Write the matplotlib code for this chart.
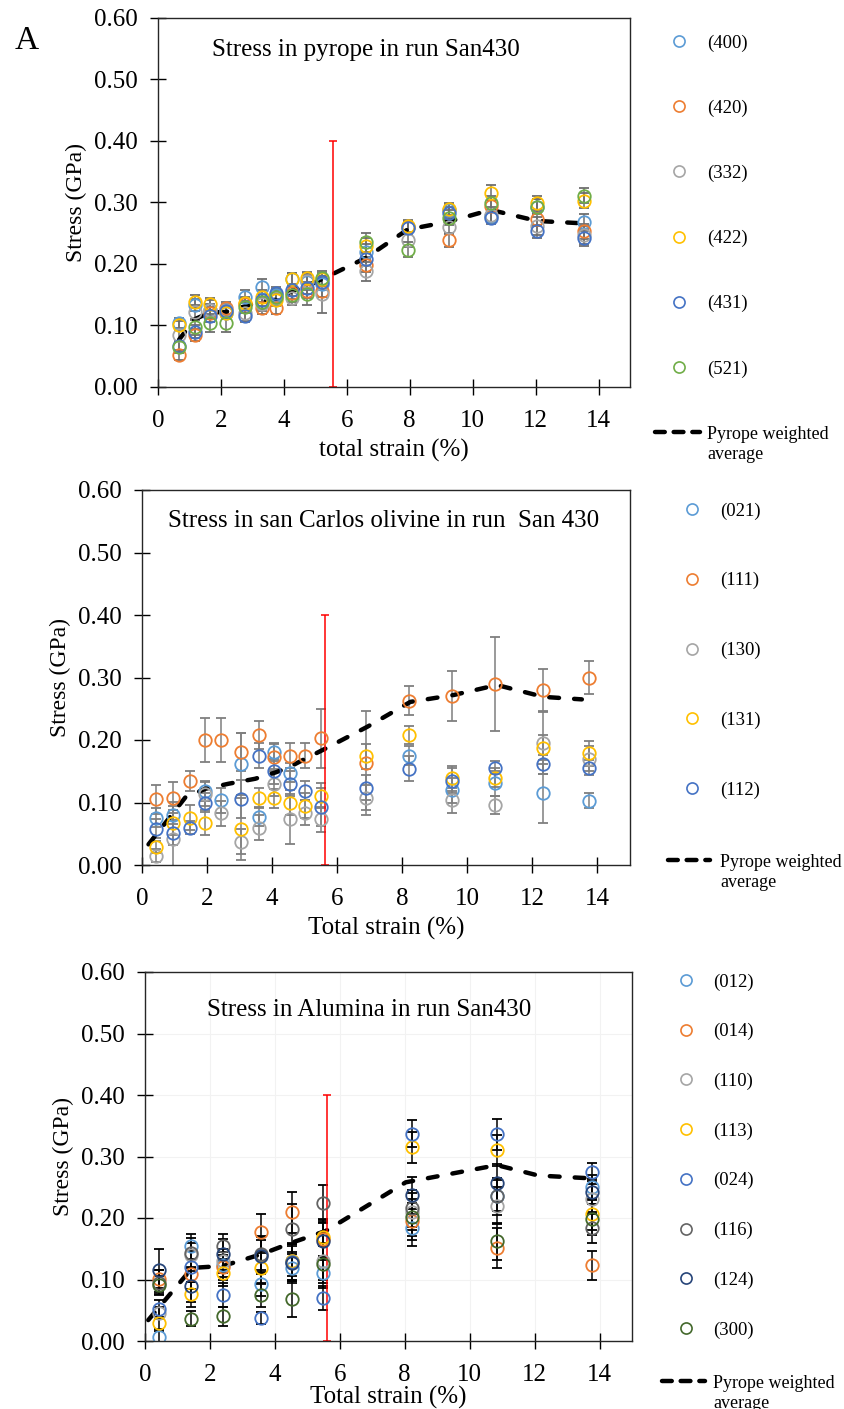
import matplotlib
matplotlib.use("Agg")
import matplotlib.pyplot as plt
import numpy as np
from matplotlib.lines import Line2D

plt.rcParams["font.family"] = ["Liberation Serif", "DejaVu Serif"]

nan = np.nan

# ---------------- panel 1: pyrope ----------------
strain1 = [0.67, 1.16, 1.64, 2.15, 2.75, 3.31, 3.76, 4.26, 4.74, 5.20, 6.61, 7.93, 9.25, 10.57, 12.05, 13.55]
pyrope_labels = ["(400)", "(420)", "(332)", "(422)", "(431)", "(521)"]
pyrope_stress = [
    [0.104, 0.133, 0.125, 0.120, 0.147, 0.163, 0.150, 0.175, 0.170, 0.168, 0.220, 0.260, 0.287, 0.278, 0.293, 0.269],
    [0.052, 0.085, 0.120, 0.129, 0.135, 0.129, 0.129, 0.153, 0.156, 0.156, 0.199, 0.260, 0.239, 0.294, 0.273, 0.253],
    [0.085, 0.122, 0.126, 0.125, 0.120, 0.135, 0.145, 0.145, 0.173, 0.151, 0.188, 0.239, 0.260, 0.280, 0.262, 0.247],
    [0.100, 0.139, 0.135, 0.120, 0.137, 0.147, 0.142, 0.175, 0.177, 0.175, 0.230, 0.262, 0.289, 0.316, 0.299, 0.303],
    [0.067, 0.090, 0.115, 0.123, 0.115, 0.142, 0.153, 0.158, 0.161, 0.170, 0.208, 0.258, 0.283, 0.275, 0.253, 0.242],
    [0.065, 0.097, 0.104, 0.104, 0.130, 0.139, 0.147, 0.150, 0.151, 0.177, 0.235, 0.223, 0.275, 0.299, 0.293, 0.311],
]
pyrope_err = [
    [0.008, 0.010, 0.010, 0.010, 0.010, 0.012, 0.010, 0.010, 0.012, 0.010, 0.012, 0.010, 0.010, 0.010, 0.012, 0.012],
    [0.008, 0.010, 0.010, 0.010, 0.010, 0.010, 0.010, 0.010, 0.012, 0.010, 0.012, 0.010, 0.012, 0.010, 0.012, 0.012],
    [0.010, 0.012, 0.015, 0.010, 0.012, 0.012, 0.012, 0.012, 0.012, 0.030, 0.015, 0.012, 0.012, 0.012, 0.015, 0.015],
    [0.008, 0.010, 0.010, 0.010, 0.010, 0.010, 0.010, 0.010, 0.010, 0.010, 0.012, 0.010, 0.010, 0.012, 0.012, 0.012],
    [0.008, 0.010, 0.010, 0.010, 0.010, 0.010, 0.010, 0.010, 0.010, 0.010, 0.012, 0.010, 0.010, 0.010, 0.010, 0.012],
    [0.010, 0.012, 0.015, 0.015, 0.010, 0.012, 0.012, 0.012, 0.018, 0.012, 0.015, 0.012, 0.012, 0.012, 0.012, 0.012],
]
avg_x1 = [0.67, 1.16, 1.64, 2.15, 2.75, 3.31, 3.76, 4.26, 4.74, 5.20, 6.61, 7.93, 9.25, 10.57, 12.05, 13.55]
avg_y1 = [0.077, 0.110, 0.121, 0.122, 0.131, 0.139, 0.142, 0.156, 0.164, 0.175, 0.210, 0.256, 0.269, 0.288, 0.270, 0.266]

# ---------------- panel 2: San Carlos olivine ----------------
strain2 = [0.44, 0.95, 1.47, 1.95, 2.44, 3.04, 3.59, 4.05, 4.54, 5.02, 5.50, 6.89, 8.21, 9.54, 10.86, 12.34, 13.75]
olivine_labels = ["(021)", "(111)", "(130)", "(131)", "(112)"]
olivine_stress = [
    [0.076, 0.080, nan, 0.118, 0.104, 0.162, 0.077, 0.181, 0.148, nan, nan, nan, 0.175, 0.120, 0.131, 0.115, 0.103],
    [0.105, 0.108, 0.135, 0.200, 0.200, 0.181, 0.208, 0.173, 0.175, 0.175, 0.203, 0.163, 0.263, 0.270, 0.290, 0.280, 0.300],
    [0.015, 0.041, nan, 0.114, 0.083, 0.037, 0.060, 0.130, 0.073, 0.084, 0.073, 0.108, nan, 0.104, 0.096, 0.195, 0.170],
    [0.029, 0.068, 0.076, 0.068, nan, 0.058, 0.108, 0.107, 0.100, 0.095, 0.111, 0.174, 0.208, 0.139, 0.140, 0.188, 0.179],
    [0.058, 0.052, 0.060, 0.100, nan, 0.106, 0.175, 0.150, 0.130, 0.119, 0.093, 0.124, 0.154, 0.135, 0.156, 0.161, 0.156],
]
olivine_err = [
    [0.015, 0.015, nan, 0.015, 0.020, 0.050, 0.015, 0.015, 0.015, nan, nan, nan, 0.015, 0.020, 0.020, 0.047, 0.012],
    [0.023, 0.025, 0.016, 0.035, 0.035, 0.030, 0.022, 0.020, 0.020, 0.020, 0.047, 0.083, 0.023, 0.040, 0.075, 0.033, 0.026],
    [0.010, 0.060, nan, 0.020, 0.020, 0.020, 0.020, 0.020, 0.040, 0.020, 0.020, 0.020, nan, 0.020, 0.015, 0.050, 0.020],
    [0.010, 0.020, 0.020, 0.020, nan, 0.050, 0.015, 0.015, 0.020, 0.020, 0.020, 0.020, 0.015, 0.020, 0.015, 0.020, 0.020],
    [0.015, 0.020, 0.010, 0.015, nan, 0.030, 0.020, 0.020, 0.020, 0.015, 0.030, 0.020, 0.020, 0.020, 0.010, 0.015, 0.012],
]
avg_x2 = [0.20, 1.33, 1.95, 2.66, 3.48, 4.10, 4.50, 5.02, 5.63, 6.92, 8.25, 9.58, 10.91, 12.34, 13.52]
avg_y2 = [0.033, 0.108, 0.122, 0.130, 0.138, 0.148, 0.156, 0.170, 0.186, 0.221, 0.261, 0.272, 0.288, 0.269, 0.265]

# ---------------- panel 3: alumina ----------------
strain3 = [0.42, 1.43, 2.40, 3.58, 4.53, 5.47, 8.21, 10.84, 13.76]
alumina_labels = ["(012)", "(014)", "(110)", "(113)", "(024)", "(116)", "(124)", "(300)"]
alumina_stress = [
    [0.006, 0.154, 0.124, 0.093, 0.119, 0.111, 0.184, 0.236, 0.250],
    [0.101, 0.109, 0.120, 0.177, 0.209, 0.166, 0.195, 0.151, 0.123],
    [0.045, 0.140, 0.130, 0.140, 0.130, 0.130, 0.210, 0.220, 0.231],
    [0.029, 0.076, 0.110, 0.118, 0.130, 0.169, 0.315, 0.310, 0.206],
    [0.052, 0.121, 0.075, 0.037, 0.128, 0.070, 0.337, 0.336, 0.275],
    [0.095, 0.143, 0.154, 0.141, 0.182, 0.224, 0.216, 0.235, 0.184],
    [0.115, 0.089, 0.141, 0.139, 0.127, 0.162, 0.237, 0.257, 0.243],
    [0.091, 0.036, 0.040, 0.075, 0.069, 0.125, 0.201, 0.162, 0.198],
]
alumina_err = [
    [0.010, 0.020, 0.020, 0.020, 0.025, 0.025, 0.030, 0.025, 0.020],
    [0.015, 0.025, 0.020, 0.030, 0.033, 0.030, 0.030, 0.033, 0.023],
    [0.010, 0.020, 0.020, 0.025, 0.025, 0.030, 0.030, 0.030, 0.025],
    [0.010, 0.020, 0.020, 0.025, 0.030, 0.030, 0.025, 0.025, 0.025],
    [0.015, 0.025, 0.020, 0.010, 0.030, 0.020, 0.022, 0.025, 0.015],
    [0.020, 0.025, 0.020, 0.030, 0.040, 0.030, 0.030, 0.030, 0.025],
    [0.035, 0.025, 0.025, 0.030, 0.030, 0.030, 0.030, 0.030, 0.020],
    [0.015, 0.012, 0.015, 0.020, 0.030, 0.030, 0.030, 0.030, 0.025],
]
avg_x3 = [0.10, 1.28, 1.49, 2.40, 3.58, 4.53, 5.57, 8.03, 10.84, 12.12, 13.55]
avg_y3 = [0.034, 0.108, 0.119, 0.122, 0.141, 0.160, 0.179, 0.258, 0.286, 0.269, 0.265]

red_x = [5.57, 5.63, 5.61]

c_lblue, c_orange, c_grey, c_yellow, c_blue, c_green = "#5B9BD5", "#ED7D31", "#A5A5A5", "#FFC000", "#4472C4", "#70AD47"
colors1 = [c_lblue, c_orange, c_grey, c_yellow, c_blue, c_green]
colors2 = [c_lblue, c_orange, c_grey, c_yellow, c_blue]
colors3 = [c_lblue, c_orange, c_grey, c_yellow, c_blue, "#636363", "#264478", "#43682B"]

W, H = 845, 1409
fig = plt.figure(figsize=(W / 100, H / 100), dpi=100)

AVG_DASH = (2.2, 3.4)


def px_axes(left, top, right, bottom):
    return fig.add_axes([left / W, 1 - bottom / H, (right - left) / W, (bottom - top) / H])


def style(ax, xlabel, xpad):
    ax.set_xlim(0, 15)
    ax.set_ylim(0, 0.6)
    ax.set_xticks(np.arange(0, 15, 2))
    ax.set_yticks(np.arange(0, 0.61, 0.1))
    ax.set_yticklabels([f"{v:.2f}" for v in np.arange(0, 0.61, 0.1)])
    ax.tick_params(direction="inout", length=11, width=1, labelsize=18)
    ax.tick_params(axis="x", pad=11)
    ax.tick_params(axis="y", pad=9)
    for s in ax.spines.values():
        s.set_linewidth(1)
        s.set_color("#262626")
    ax.set_xlabel(xlabel, fontsize=18, labelpad=xpad)
    ax.set_ylabel("Stress (GPa)", fontsize=17, labelpad=5)


def draw(ax, xs, stress, errs, colors, ecolor, avg_x, avg_y, red):
    for ys, es, c in zip(stress, errs, colors):
        ax.errorbar(xs, ys, yerr=es, fmt="o", ms=9, mfc="none", mec=c, mew=1.3,
                    ecolor=ecolor, elinewidth=1.1, capsize=3.5, capthick=1.1)
    ax.plot(avg_x, avg_y, color="black", lw=3.2, dashes=AVG_DASH, dash_capstyle="round")
    ax.errorbar([red], [0.2], yerr=[0.2], fmt="none", ecolor="#ff0000", elinewidth=1.1,
                capsize=3, capthick=1.1)


def legends(ax, labels, colors, x_mark, y_first, pitch, line_left, line_right, y_line, text_x):
    fs = 13.5
    fs_px = fs * 100 / 72
    row = 0.933 * fs_px
    handles = [Line2D([], [], ls="none", marker="o", ms=8, mfc="none", mec=c, mew=1.2) for c in colors]
    hl = 1.0
    leg = ax.legend(handles, labels, loc="upper left", frameon=False, fontsize=fs,
                    bbox_to_anchor=((x_mark - hl * fs_px / 2) / W, 1 - (y_first - row / 2 + 2) / H),
                    bbox_transform=fig.transFigure, borderpad=0, borderaxespad=0,
                    handlelength=hl, handletextpad=(text_x - x_mark - hl * fs_px / 2) / fs_px,
                    labelspacing=(pitch - row) / fs_px)
    ax.add_artist(leg)
    fs2 = 13
    fs2_px = fs2 * 100 / 72
    row2 = 0.933 * fs2_px
    avg_handle = Line2D([], [], color="black", lw=3.2, dashes=(2.2, 2.0), dash_capstyle="round")
    blank = Line2D([], [], ls="none")
    ax.legend([avg_handle, blank], ["Pyrope weighted", "average"], loc="upper left", frameon=False,
              fontsize=fs2, bbox_to_anchor=(line_left / W, 1 - (y_line - row2 / 2 + 2) / H),
              bbox_transform=fig.transFigure, borderpad=0, borderaxespad=0,
              handlelength=(line_right - line_left) / fs2_px,
              handletextpad=(text_x - line_right) / fs2_px, labelspacing=(20 - row2) / fs2_px)


# panel 1
ax1 = px_axes(158, 18, 630, 387)
draw(ax1, strain1, pyrope_stress, pyrope_err, colors1, "#6e6e6e", avg_x1, avg_y1, red_x[0])
style(ax1, "total strain (%)", 5)
ax1.text(0.44, 0.913, "Stress in pyrope in run San430", transform=ax1.transAxes,
         ha="center", va="center", fontsize=18)
legends(ax1, pyrope_labels, colors1, 679, 41, 65.4, 655, 700, 432, 707)
fig.text(26.5 / W, 1 - 41 / H, "A", fontsize=24, ha="center", va="center")

# panel 2
ax2 = px_axes(142, 490, 630, 865)
draw(ax2, strain2, olivine_stress, olivine_err, colors2, "#7f7f7f", avg_x2, avg_y2, red_x[1])
style(ax2, "Total strain (%)", 5)
ax2.text(0.494, 0.917, "Stress in san Carlos olivine in run  San 430", transform=ax2.transAxes,
         ha="center", va="center", fontsize=18)
legends(ax2, olivine_labels, colors2, 692, 509, 70, 668, 710, 860, 720)

# panel 3
ax3 = px_axes(145, 972, 632, 1341)
ax3.grid(True, color="#f2f2f2", lw=0.8)
ax3.set_axisbelow(True)
draw(ax3, strain3, alumina_stress, alumina_err, colors3, "black", avg_x3, avg_y3, red_x[2])
style(ax3, "Total strain (%)", 0)
ax3.text(0.46, 0.897, "Stress in Alumina in run San430", transform=ax3.transAxes,
         ha="center", va="center", fontsize=18)
legends(ax3, alumina_labels, colors3, 686, 980, 49.9, 662, 705, 1381, 713)

fig.savefig("out.png", dpi=100)
